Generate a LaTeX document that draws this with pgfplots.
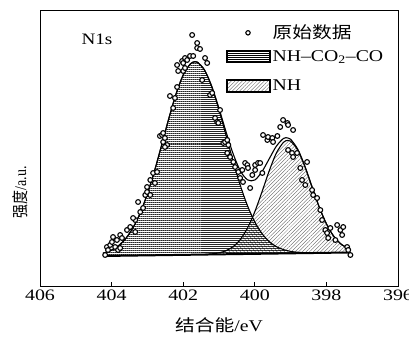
\documentclass[border=0pt]{standalone}
\usepackage{fontspec}
\setmainfont{Liberation Serif}
\newfontfamily\cjk{Noto Sans CJK SC}
\usepackage{pgfplots}
\pgfplotsset{compat=1.18}
\usetikzlibrary{patterns,patterns.meta}
\newcommand\sx[1]{\scalebox{1.2}[1]{#1}}

\begin{document}
\begin{tikzpicture}
\useasboundingbox (-40bp,-52bp) rectangle (369bp,286bp);
\begin{axis}[
  at={(0,0)}, anchor=south west,
  scale only axis, width=358bp, height=276bp,
  x dir=reverse, xmin=396, xmax=406, ymin=14, ymax=290,
  xtick={396,398,...,406}, ytick=\empty,
  xtick pos=left, tick align=inside, major tick length=4bp,
  axis line style={line width=0.8pt},
  every tick/.style={line width=0.8pt, black},
  /pgf/number format/assume math mode=true,
  xticklabel={\scalebox{1.25}[1]{\pgfmathprintnumber{\tick}}},
  xticklabel style={font=\fontsize{16}{19}\selectfont},
  xlabel={\sx{{\cjk 结合能}/eV}},
  ylabel={\scalebox{0.85}[1]{{\cjk 强度}/a.u.}},
  every axis x label/.style={at={(axis description cs:0.5,0)}, anchor=center, yshift=-39bp, font=\fontsize{16.5}{20}\selectfont},
  every axis y label/.style={at={(axis description cs:-0.056,0.34)}, rotate=90, anchor=center, font=\fontsize{16.5}{20}\selectfont},
  legend cell align=left,
  legend style={at={(axis description cs:0.52,0.953)}, anchor=north west, draw=none, fill=none,
    font=\fontsize{16.5}{20}\selectfont, row sep=6bp, inner sep=0pt},
]
% legend images
\addlegendimage{legend image code/.code={\draw[line width=1.1pt, fill=white] (21bp,0bp) circle (2.2bp);}}
\addlegendentry{\sx{{\cjk 原始数据}}}
\addlegendimage{legend image code/.code={\draw[line width=1.3pt, pattern={Lines[angle=0,distance=2pt,line width=0.45pt]}] (0bp,-6bp) rectangle (43bp,6bp);}}
\addlegendentry{\sx{NH\textendash CO\textsubscript{2}\textendash CO}}

% NH-CO2-CO component (fill)
\addplot[forget plot, draw=none, pattern={Lines[angle=0,distance=2pt,line width=0.45pt]}, pattern color=black!85]
coordinates {(404.24,44.0)(404.24,46.7)(404.0,49.9)(403.8,54.5)(403.6,61.7)(403.4,72.4)(403.2,87.1)(403.0,106.2)(402.8,129.3)(402.6,155.2)(402.4,181.7)(402.2,206.0)(402.0,225.0)(401.8,236.1)(401.67,238.3)(401.6,237.8)(401.4,229.6)(401.2,212.9)(401.0,190.1)(400.8,164.2)(400.6,138.1)(400.4,114.1)(400.2,93.9)(400.0,78.1)(399.8,66.5)(399.6,58.5)(399.4,53.4)(399.2,50.4)(399.0,48.6)(398.8,47.7)(398.6,47.3)(398.4,46.98)} -- cycle;
% NH component (fill)
\addplot[forget plot, draw=none, pattern={Lines[angle=45,distance=2.6pt,line width=0.35pt]}, pattern color=black!65]
coordinates {(401.4,45.45)(401.2,46.15)(401.0,47.15)(400.8,49.35)(400.6,53.46)(400.4,60.76)(400.2,72.26)(400.0,88.26)(399.8,108.06)(399.6,128.87)(399.4,146.77)(399.2,157.67)(399.08,159.63)(399.0,158.87)(398.8,149.87)(398.6,133.28)(398.4,112.88)(398.2,92.88)(398.0,76.18)(397.8,63.98)(397.6,56.19)(397.4,51.69)(397.33,50.72)(397.33,47.52)} -- cycle;
% component outlines
\addplot[forget plot, black, line width=1.1pt, smooth]
coordinates {(404.24,46.7)(404.0,49.9)(403.8,54.5)(403.6,61.7)(403.4,72.4)(403.2,87.1)(403.0,106.2)(402.8,129.3)(402.6,155.2)(402.4,181.7)(402.2,206.0)(402.0,225.0)(401.8,236.1)(401.67,238.3)(401.6,237.8)(401.4,229.6)(401.2,212.9)(401.0,190.1)(400.8,164.2)(400.6,138.1)(400.4,114.1)(400.2,93.9)(400.0,78.1)(399.8,66.5)(399.6,58.5)(399.4,53.4)(399.2,50.4)(399.0,48.6)(398.8,47.7)(398.6,47.3)(398.4,47.0)};
\addplot[forget plot, black, line width=1.1pt, smooth]
coordinates {(401.4,45.65)(401.2,46.15)(401.0,47.15)(400.8,49.35)(400.6,53.46)(400.4,60.76)(400.2,72.26)(400.0,88.26)(399.8,108.06)(399.6,128.87)(399.4,146.77)(399.2,157.67)(399.08,159.63)(399.0,158.87)(398.8,149.87)(398.6,133.28)(398.4,112.88)(398.2,92.88)(398.0,76.18)(397.8,63.98)(397.6,56.19)(397.4,51.69)(397.33,50.72)};
% envelope
\addplot[forget plot, black, line width=1.1pt, smooth]
coordinates {(404.24,46.7)(404.0,49.9)(403.8,54.5)(403.6,61.7)(403.4,72.4)(403.2,87.1)(403.0,106.2)(402.8,129.3)(402.6,155.2)(402.4,181.7)(402.2,206.0)(402.0,225.0)(401.8,236.1)(401.67,238.3)(401.6,237.8)(401.4,229.8)(401.2,213.5)(401.0,191.6)(400.8,167.8)(400.6,145.7)(400.4,128.9)(400.2,120.1)(400.0,120.0)(399.8,128.3)(399.6,141.0)(399.4,153.7)(399.2,161.5)(399.08,162.1)(399.0,160.8)(398.8,150.8)(398.6,133.7)(398.4,113.1)(398.2,92.9)(398.0,76.2)(397.8,64.0)(397.6,56.2)(397.4,51.7)(397.33,50.7)};
% baseline
\addplot[forget plot, black, line width=2pt] coordinates {(404.24,44.0)(397.33,47.52)};
% raw data
\addplot[forget plot, only marks, mark=*, mark size=2.4pt, mark options={fill=white, draw=black, line width=1.1pt}]
coordinates {
(404.18,45)(404.13,53)(404.10,50)(404.04,55)(403.99,58)(403.96,63)(403.90,53)(403.85,60)(403.82,50)(403.76,65)(403.76,52)(403.71,62)(403.57,70)(403.48,73)(403.34,68)(403.34,80)(403.40,82)(403.26,98)(403.20,88)(403.12,92)(403.06,105)(403.01,108)(403.01,113)(402.92,120)(402.92,105)(402.84,127)(402.79,117)(402.73,128)(402.65,164)(402.59,165)(402.56,167)(402.56,158)(402.51,162)(402.45,155)(402.51,153)(402.37,204)(402.28,192)(402.23,202)(402.17,213)(402.17,235)(402.14,229)(402.03,239)(402.00,237)(402.00,229)(401.95,242)(401.95,232)(401.89,240)(401.81,244)(401.75,265)(401.72,244)(401.61,257)(401.61,252)(401.53,251)(401.47,220)(401.39,242)(401.33,237)(401.25,205)(401.19,207)(401.11,182)(401.05,178)(401.02,177)(400.97,190)(400.88,157)(400.83,158)(400.77,160)(400.77,147)(400.74,155)(400.69,143)(400.60,138)(400.55,133)(400.46,128)(400.41,122)(400.35,130)(400.33,118)(400.27,137)(400.21,135)(400.19,132)(400.13,112)(400.07,125)(399.99,135)(399.99,130)(399.91,137)(399.85,137)(399.79,127)(399.77,165)(399.65,160)(399.63,163)(399.51,162)(399.49,158)(399.37,164)(399.29,173)(399.21,180)(399.09,177)(399.07,175)(399.07,150)(398.93,170)(398.96,147)(398.82,147)(398.93,143)(398.73,132)(398.68,120)(398.59,115)(398.54,138)(398.40,110)(398.37,105)(398.26,102)(398.17,90)(398.12,80)(398.03,70)(397.98,67)(397.95,62)(397.89,72)(397.75,60)(397.70,75)(397.61,70)(397.56,65)(397.53,73)(397.42,53)(397.39,50)(397.33,45)
};
\node[font=\fontsize{16}{19}\selectfont] at (axis description cs:0.159,0.895) {\sx{N1s}};
\end{axis}
% second (hidden) axis carrying the NH legend row
\begin{axis}[
  at={(0,0)}, anchor=south west,
  scale only axis, width=358bp, height=276bp,
  hide axis, xmin=396, xmax=406, ymin=14, ymax=290,
  legend cell align=left,
  legend style={at={(axis description cs:0.52,0.7246)}, anchor=west, draw=none, fill=none,
    font=\fontsize{16.5}{20}\selectfont, inner sep=0pt},
]
\addlegendimage{legend image code/.code={\draw[line width=1.3pt, pattern={Lines[angle=45,distance=2.6pt,line width=0.35pt]}, pattern color=black!65] (0bp,-6bp) rectangle (43bp,6bp);}}
\addlegendentry{\sx{NH}}
\end{axis}
\end{tikzpicture}
\end{document}
